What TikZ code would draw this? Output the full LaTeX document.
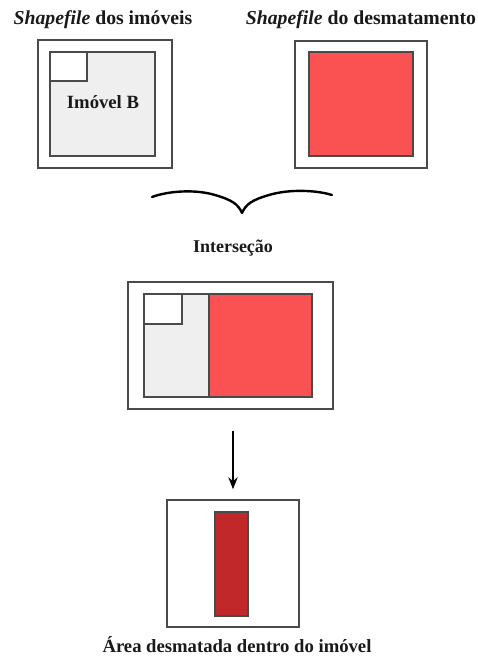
\documentclass[tikz,border=0pt]{standalone}
\usepackage{fontspec}
\setmainfont{Liberation Serif}
\usetikzlibrary{arrows.meta}

\definecolor{lotegray}{HTML}{EFEFEF}
\definecolor{desmred}{HTML}{FA5252}
\definecolor{darkred}{HTML}{C0282A}
\definecolor{edgegray}{HTML}{4A4A4A}

\tikzset{
    frame/.style={draw=edgegray, line width=1.1pt, minimum width=#1},
    label/.style={font=\bfseries\fontsize{14}{16}\selectfont, text=black!90},
    title/.style={font=\bfseries\fontsize{14.8}{17}\selectfont, text=black!90},
    parcel/.style={draw=edgegray, line width=1.1pt},
}

\begin{document}
\begin{tikzpicture}[x=0.75pt,y=-0.75pt]
    \useasboundingbox (0,0) rectangle (478,657);

    % Titles
    \node[title] (tlote) at (103,20) {\textit{Shapefile} dos imóveis};
    \node[title] (tdesm) at (361,20) {\textit{Shapefile} do desmatamento};

    % Shapefile of the properties
    \draw[parcel] (38,40) rectangle (172,168); % outer frame
    \draw[parcel, fill=lotegray] (50,52) rectangle (155,156); % property B
    \draw[parcel, fill=white] (50,52) rectangle (87,81); % neighbour property
    \node[label] (imovel) at (103,102) {Imóvel B};

    % Shapefile of the deforestation
    \draw[parcel] (295,41) rectangle (427,168); % outer frame
    \draw[parcel, fill=desmred] (309,52) rectangle (413,156); % deforested area

    % Brace joining both layers
    \draw[line width=1.8pt, line cap=round, line join=round]
        (152,197) .. controls (168,191) and (195,189) .. (215,195)
        .. controls (232,200) and (238,204) .. (242,213)
        .. controls (246,204) and (252,200) .. (269,195)
        .. controls (289,189) and (316,190) .. (332,195);
    \node[label, font=\bfseries\fontsize{13.5}{16}\selectfont] (tinter) at (233,248) {Interseção};

    % Intersection
    \node[frame=205*0.75pt, minimum height=127*0.75pt, inner sep=0pt] (inter) at (230.5,345.5) {};
    \draw[parcel, fill=lotegray] (144,294) rectangle (209,397);
    \draw[parcel, fill=desmred] (209,294) rectangle (312,397);
    \draw[parcel, fill=white] (144,294) rectangle (182,324);

    % Result
    \node[frame=132*0.75pt, minimum height=127*0.75pt, inner sep=0pt] (result) at (233,563.5) {};
    \draw[parcel, fill=darkred] (215,512) rectangle (248,616); % deforestation inside property
    \node[label] (tresult) at (237,645) {Área desmatada dentro do imóvel};

    % Arrow
    \draw[-{Stealth[length=9pt,width=7pt]}, line width=1.3pt, shorten <=15.75pt, shorten >=7.5pt]
        (inter.south -| result.north) -- (result.north);
\end{tikzpicture}
\end{document}
